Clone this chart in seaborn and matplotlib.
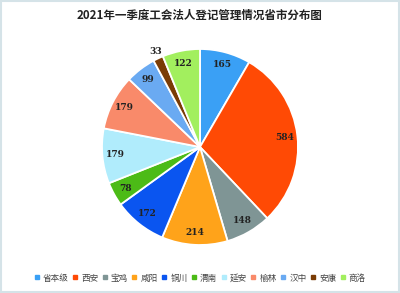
import matplotlib
matplotlib.use("Agg")
import matplotlib.pyplot as plt
import seaborn as sns
import numpy as np
from matplotlib.patches import Rectangle
from matplotlib.lines import Line2D

categories = ["省本级", "西安", "宝鸡", "咸阳", "铜川", "渭南", "延安", "榆林", "汉中", "安康", "商洛"]
values = [165, 584, 148, 214, 172, 78, 179, 179, 99, 33, 122]
colors = ["#3aa0f5", "#ff4a05", "#7f9595", "#ffa31a", "#0a55f0", "#4cbb17",
          "#b0ecfc", "#f98a6a", "#6aaaf2", "#7a3c05", "#a2ef5e"]
title = "2021年一季度工会法人登记管理情况省市分布图"

sns.set_theme(style="white")
plt.rcParams['font.family'] = ['Noto Sans CJK SC', 'DejaVu Sans']

fig = plt.figure(figsize=(4.0, 2.93), dpi=100)
fig.patch.set_facecolor("white")
ax = fig.add_axes([0.5 - 98/400, 1 - (147+98)/293, 196/400, 196/293])

wedges, texts = ax.pie(values, colors=colors, startangle=90, counterclock=False,
                       wedgeprops=dict(edgecolor="white", linewidth=1.3))
ax.set_aspect("equal")
ax.set_xlim(-1, 1)
ax.set_ylim(-1, 1)

total = sum(values)
cum = 0
for v in values:
    mid = 90 - (cum + v / 2) / total * 360
    cum += v
    r = 0.87 if v > 50 else 1.05
    x = r * np.cos(np.radians(mid))
    y = r * np.sin(np.radians(mid))
    ax.text(x, y + (0.02 if v < 50 else 0), str(v), ha="center", va="center", fontsize=6.5,
            family="DejaVu Serif", fontweight="bold", color="#222222")

fig.text(0.5, 1 - 15/293, title, ha="center", va="center", fontsize=8.3,
         fontweight="bold", color="#222222")

handles = [Line2D([0], [0], marker="s", linestyle="", markersize=3.5,
                  markerfacecolor=c, markeredgecolor=c) for c in colors]
fig.legend(handles, categories, loc="center", bbox_to_anchor=(0.5, 1 - 278/293),
           ncol=11, frameon=False, fontsize=6.2, handlelength=0.6, handletextpad=0.4,
           columnspacing=0.45, labelcolor="#444444")

fig.patches.append(Rectangle((0.002, 0.003), 0.996, 0.994, transform=fig.transFigure,
                             fill=False, edgecolor="#d5e3e8", linewidth=1.5))

fig.savefig("out.png", dpi=100)
